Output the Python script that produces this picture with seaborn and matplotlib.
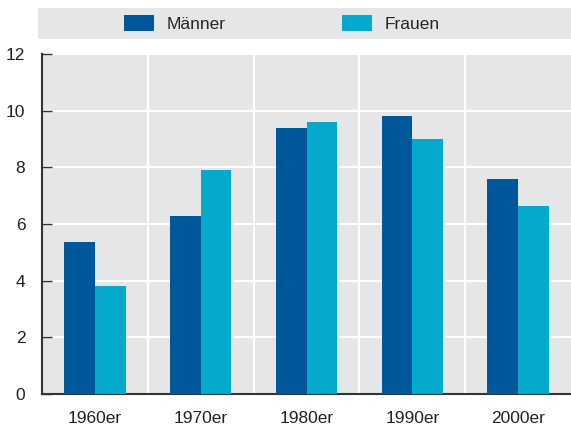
import numpy as np
import pandas as pd
import seaborn as sns
import matplotlib.pyplot as plt
from matplotlib.patches import Rectangle

# -----------------------------
# Data
decades = ["1960er", "1970er", "1980er", "1990er", "2000er"]
maenner = [5.35, 6.3, 9.4, 9.8, 7.6]
frauen = [3.8, 7.9, 9.6, 9.0, 6.65]
series = ["Männer", "Frauen"]
colors = ["#00589c", "#04a9cc"]

df = pd.DataFrame({
    "decade": decades * 2,
    "value": maenner + frauen,
    "group": [series[0]] * len(decades) + [series[1]] * len(decades),
})

# -----------------------------
# Style
sns.set_style("white")
plt.rcParams["font.family"] = ["Liberation Sans", "DejaVu Sans"]
plt.rcParams["font.size"] = 12

fig = plt.figure(figsize=(5.71, 4.25), dpi=100)
ax = fig.add_axes([42 / 571, 1 - 394 / 425, 1 - 42 / 571, (394 - 54) / 425])
ax.set_facecolor("#e5e6e8")

sns.barplot(data=df, x="decade", y="value", hue="group", palette=colors,
            width=0.58, saturation=1, linewidth=0, ax=ax, zorder=3, legend=True)

ax.set_ylim(0, 12)
ax.set_yticks(np.arange(0, 13, 2))
ax.set_xlim(-0.5, len(decades) - 0.5)
ax.set_xticks(np.arange(len(decades) - 1) + 0.5, minor=True)
ax.grid(axis="y", which="major", color="white", linewidth=1.5, zorder=1)
ax.grid(axis="x", which="minor", color="white", linewidth=1.5, zorder=1)
ax.set_axisbelow(True)
ax.set_xlabel("")
ax.set_ylabel("")

for side in ["top", "right"]:
    ax.spines[side].set_visible(False)
for side in ["left", "bottom"]:
    ax.spines[side].set_color("#333333")
    ax.spines[side].set_linewidth(1.5)

ax.tick_params(axis="y", left=True, direction="in", length=7, width=1,
               color="#333333", labelsize=12.5, labelcolor="#222222", pad=12)
ax.tick_params(axis="x", which="both", bottom=False, length=0, labelsize=12.5,
               labelcolor="#222222", pad=12)

# -----------------------------
# Legend band at the top
fig.patches.append(Rectangle((38 / 571, 1 - 39 / 425), 1 - 38 / 571, 31 / 425,
                             transform=fig.transFigure, facecolor="#e5e6e8",
                             edgecolor="none", zorder=0))
handles, labels = ax.get_legend_handles_labels()
ax.get_legend().remove()
fig.legend(handles, labels, loc="center left",
           bbox_to_anchor=(124 / 571, 1 - 23.5 / 425), ncol=2, frameon=False,
           borderpad=0, borderaxespad=0, handlelength=1.75, handleheight=1.0,
           handletextpad=0.7, columnspacing=6.7, fontsize=12.5)

fig.savefig("out.png", dpi=100)
